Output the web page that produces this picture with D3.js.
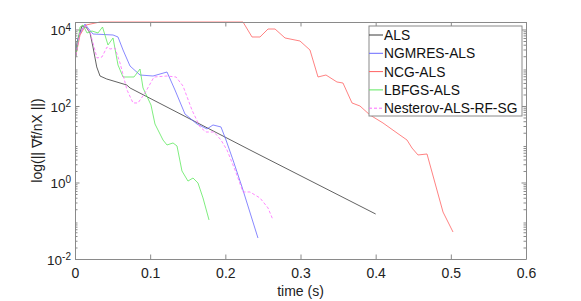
<!DOCTYPE html>
<html>
<head>
<meta charset="utf-8">
<script src="https://cdn.jsdelivr.net/npm/d3@7"></script>
<style>
  body { margin: 0; background: #fff; }
  text { font-family: "Liberation Sans", Arial, sans-serif; }
</style>
</head>
<body>
<div id="chart"></div>
<script>
// values: time (s) and gradient norm
var alsTime = [0.0013, 0.0027, 0.0093, 0.0146, 0.0200, 0.0239, 0.0289, 0.0333, 0.0422, 0.0688, 0.0732, 0.2328, 0.4000];
var alsVal  = [2030, 4710, 12400, 11600, 8110, 3490, 1050, 608, 508, 354, 296, 7.08, 0.150];

var ngmresTime = [0.0013, 0.0040, 0.0133, 0.0173, 0.0239, 0.0506, 0.0572, 0.0639, 0.0732, 0.0865, 0.1038, 0.1224, 0.1330,
                  0.1463, 0.1623, 0.1756, 0.1836, 0.1942, 0.2009, 0.2102, 0.2222, 0.2434];
var ngmresVal  = [2150, 6000, 13900, 10900, 7620, 7180, 6370, 2910, 1110, 646, 608, 774, 262,
                  61.8, 33.8, 25.1, 31.9, 28.3, 12.9, 3.87, 0.762, 0.0354];

var ncgTime = [0.0013, 0.0067, 0.0146, 0.0333, 0.2235, 0.2355, 0.2461, 0.2568, 0.2661, 0.2794, 0.2993, 0.3126, 0.3233,
               0.3339, 0.3485, 0.3565, 0.3685, 0.3791, 0.3924, 0.4097, 0.4284, 0.4417, 0.4483, 0.4563, 0.4683, 0.4896, 0.5029];
var ncgVal  = [2150, 7180, 13100, 15700, 15700, 6370, 6370, 10300, 10300, 6000, 5000, 2910, 573,
               646, 424, 399, 120, 100, 58.2, 36.0, 19.7, 12.9, 7.98, 5.24, 5.56, 0.169, 0.0508];

var lbfgsTime = [0.0013, 0.0067, 0.0106, 0.0160, 0.0226, 0.0306, 0.0366, 0.0439, 0.0506, 0.0572, 0.0639, 0.0785, 0.0865,
                 0.0905, 0.1011, 0.1064, 0.1171, 0.1224, 0.1304, 0.1357, 0.1423, 0.1503, 0.1570, 0.1636, 0.1703, 0.1783];
var lbfgsVal  = [2150, 11600, 13100, 8110, 9140, 8110, 11600, 3940, 6000, 1180, 573, 573, 927,
                 296, 106, 33.8, 12.9, 9.56, 10.8, 9.00, 2.00, 1.09, 1.31, 0.97, 0.394, 0.105];

var nestTime = [0.0013, 0.0067, 0.0133, 0.0200, 0.0293, 0.0359, 0.0426, 0.0466, 0.0532, 0.0599, 0.0692, 0.0772, 0.0838,
                0.0931, 0.1051, 0.1224, 0.1344, 0.1437, 0.1556, 0.1663, 0.1743, 0.1849, 0.1942, 0.2022, 0.2129, 0.2235,
                0.2328, 0.2461, 0.2568, 0.2634];
var nestVal  = [2150, 8610, 12400, 8610, 1800, 1910, 3490, 3090, 3280, 1330, 262, 120, 120,
                219, 573, 608, 573, 333, 78.6, 28.3, 20.9, 20.9, 12.9, 7.08, 2.12, 0.565,
                0.565, 0.394, 0.216, 0.105];

var seriesNames = ["ALS", "NGMRES-ALS", "NCG-ALS", "LBFGS-ALS", "Nesterov-ALS-RF-SG"];
var seriesColors = ["#3a3a3a", "#6a6aff", "#ff6262", "#5ee85e", "#ff6aff"];
var seriesDash = [null, null, null, null, "3,2"];
var seriesTimes = [alsTime, ngmresTime, ncgTime, lbfgsTime, nestTime];
var seriesVals = [alsVal, ngmresVal, ncgVal, lbfgsVal, nestVal];

var xTicks = [0, 0.1, 0.2, 0.3, 0.4, 0.5, 0.6];
var xTickLabels = ["0", "0.1", "0.2", "0.3", "0.4", "0.5", "0.6"];
var yTicks = [1e-2, 1, 1e2, 1e4];
var yTickExps = ["-2", "0", "2", "4"];
var xDomain = [0, 0.6];
var yDomain = [1e-2, 1.57e4];

var W = 581, H = 301;
var margin = { top: 22, right: 55, bottom: 42, left: 75 };
var width = W - margin.left - margin.right;
var height = H - margin.top - margin.bottom;
var axisColor = "#8a8a8a";

var svg = d3.select("#chart").append("svg")
  .attr("width", W).attr("height", H)
  .style("background", "#fff");

var g = svg.append("g")
  .attr("transform", "translate(" + margin.left + "," + margin.top + ")");

var x = d3.scaleLinear().domain(xDomain).range([0, width]);
var y = d3.scaleLog().domain(yDomain).range([height, 0]);

// minor log ticks
var minorTicks = [];
for (var e = -2; e <= 4; e++) {
  for (var k = 2; k <= 9; k++) {
    var v = k * Math.pow(10, e);
    if (v < yDomain[1]) minorTicks.push(v);
  }
}

g.append("defs").append("clipPath").attr("id", "plotclip")
  .append("rect").attr("x", 0).attr("y", -1).attr("width", width).attr("height", height + 1);

// data lines
var line = d3.line()
  .x(function(d) { return x(d[0]); })
  .y(function(d) { return y(d[1]); });

seriesNames.forEach(function(name, i) {
  var pts = seriesTimes[i].map(function(t, j) { return [t, seriesVals[i][j]]; });
  g.append("path")
    .datum(pts)
    .attr("clip-path", "url(#plotclip)")
    .attr("d", line)
    .style("fill", "none")
    .style("stroke", seriesColors[i])
    .style("stroke-width", 0.8)
    .style("stroke-dasharray", seriesDash[i]);
});

// axes (ticks point inward)
function styleAxis(sel) {
  sel.select(".domain").attr("stroke", axisColor);
  sel.selectAll(".tick line").attr("stroke", axisColor);
  sel.selectAll("text").style("font-size", "14px").attr("fill", "#222");
}

g.append("g")
  .attr("transform", "translate(0," + height + ")")
  .call(d3.axisBottom(x).tickValues(xTicks).tickSizeInner(-4.5).tickSizeOuter(0).tickPadding(9)
    .tickFormat(function(d, i) { return xTickLabels[i]; }))
  .call(styleAxis);

g.append("g")
  .call(d3.axisTop(x).tickValues(xTicks).tickSizeInner(-4.5).tickSizeOuter(0).tickFormat(""))
  .call(styleAxis);

g.append("g")
  .call(d3.axisLeft(y).tickValues(yTicks).tickSizeInner(-4.5).tickSizeOuter(0).tickFormat(""))
  .call(styleAxis);
g.append("g")
  .call(d3.axisLeft(y).tickValues(minorTicks).tickSizeInner(-2.5).tickSizeOuter(0).tickFormat(""))
  .call(styleAxis)
  .select(".domain").remove();

g.append("g")
  .attr("transform", "translate(" + width + ",0)")
  .call(d3.axisRight(y).tickValues(yTicks).tickSizeInner(-4.5).tickSizeOuter(0).tickFormat(""))
  .call(styleAxis);
g.append("g")
  .attr("transform", "translate(" + width + ",0)")
  .call(d3.axisRight(y).tickValues(minorTicks).tickSizeInner(-2.5).tickSizeOuter(0).tickFormat(""))
  .call(styleAxis)
  .select(".domain").remove();

// y tick labels as powers of ten
yTicks.forEach(function(v, i) {
  var t = g.append("text")
    .attr("x", -4)
    .attr("y", y(v) + 6)
    .attr("text-anchor", "end")
    .attr("fill", "#222")
    .style("font-size", "13.5px");
  t.append("tspan").text("10");
  t.append("tspan").attr("dy", -5).style("font-size", "10px").text(yTickExps[i]);
});

// axis titles
svg.append("text")
  .attr("x", margin.left + width / 2)
  .attr("y", 296)
  .attr("text-anchor", "middle")
  .attr("fill", "#222")
  .style("font-size", "14px")
  .text("time (s)");

svg.append("text")
  .attr("transform", "translate(42," + (margin.top + height / 2) + ") rotate(-90)")
  .attr("text-anchor", "middle")
  .attr("fill", "#222")
  .style("font-size", "14px")
  .text("log(|| \u2207f/nX ||)");

// legend
var lg = svg.append("g").attr("transform", "translate(369,26)");
lg.append("rect")
  .attr("width", 153).attr("height", 90)
  .attr("fill", "#fff").attr("stroke", axisColor);

seriesNames.forEach(function(name, i) {
  var cy = 9 + i * 18.3;
  lg.append("line")
    .attr("x1", 0).attr("x2", 14)
    .attr("y1", cy).attr("y2", cy)
    .style("stroke", seriesColors[i])
    .style("stroke-dasharray", seriesDash[i]);
  lg.append("text")
    .attr("x", 15).attr("y", cy + 5)
    .attr("fill", "#111")
    .style("font-size", "13.8px")
    .text(name);
});
</script>
</body>
</html>
